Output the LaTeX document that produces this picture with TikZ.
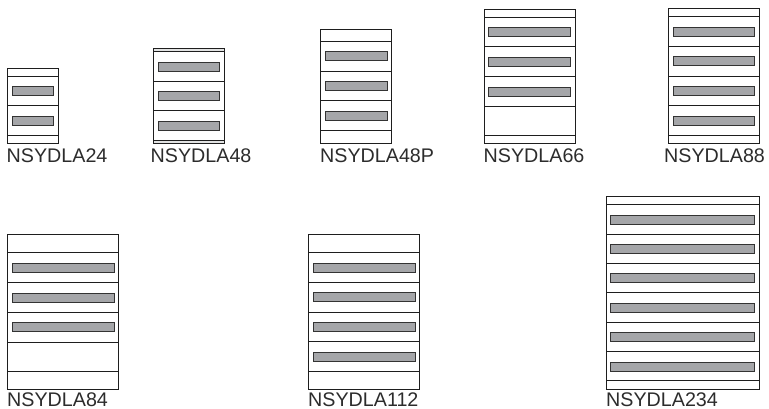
\documentclass[tikz,border=0pt]{standalone}
\usepackage{fontspec}
\setmainfont{Liberation Sans}
\definecolor{edge}{HTML}{1E1E1E}
\definecolor{barfill}{HTML}{A5A6A9}
\definecolor{barline}{HTML}{333333}
\definecolor{band}{HTML}{E2E3E3}
\definecolor{labeltext}{HTML}{2C2C2C}
\tikzset{
  panelbox/.style={draw=edge,line width=1.2pt},
  divider/.style={draw=edge,line width=1.4pt},
  slotbar/.style={draw=barline,fill=barfill,line width=1.4pt},
  caption/.style={anchor=base west,inner sep=0pt,text=labeltext,font=\fontsize{19.7}{22}\selectfont},
}
% #2 x1, #3 x2, #4 top, #5 bottom, #6 dividers, #7 bar x1, #8 bar x2, #9 bar tops
\newcommand{\cabinet}[9]{%
  \draw[panelbox] (#2,#4) rectangle (#3,#5);
  \foreach \yy in {#6} \draw[divider] (#2,\yy) -- (#3,\yy);
  \foreach \yy in {#9} \draw[slotbar] (#7,\yy) rectangle (#8,\yy+9);
}
\begin{document}
\begin{tikzpicture}[x=1pt,y=-1pt]
\useasboundingbox (0,0) rectangle (769,408);
\fill[band] (153.5,48.5) rectangle (224.5,51.5);
\fill[band] (153.5,140.5) rectangle (224.5,143.5);
\cabinet{a}{7.5}{58.5}{68.5}{143.5}{76.5,105.5,135.5}{12.5}{53.5}{86.5,116.5}
\node[caption] (a) at (6.5,162) {NSYDLA24};
\cabinet{b}{153.5}{224.5}{48.5}{143.5}{51.5,81.5,110.5,140.5}{158.5}{219.5}{62.5,91.5,121.5}
\node[caption] (b) at (150.5,162) {NSYDLA48};
\cabinet{c}{320.5}{391.5}{29.5}{143.5}{41.5,71.5,100.5,130.5}{325.5}{387.5}{51.5,81.5,111.5}
\node[caption] (c) at (320,162) {NSYDLA48P};
\cabinet{d}{484.5}{575.5}{9.5}{143.5}{17.5,46.5,76.5,106.5,135.5}{488.5}{570.5}{27.5,57.5,87.5}
\node[caption] (d) at (483.5,162) {NSYDLA66};
\cabinet{e}{668.5}{759.5}{8.5}{143.5}{16.5,46.5,76.5,105.5,135.5}{673.5}{754.5}{27.5,56.5,86.5,116.5}
\node[caption] (e) at (664,162) {NSYDLA88};
\cabinet{f}{7.5}{118.5}{234.5}{389.5}{252.5,282.5,312.5,342.5,371.5}{12.5}{114.5}{263.5,293.5,322.5}
\node[caption] (f) at (7,406) {NSYDLA84};
\cabinet{g}{308.5}{419.5}{234.5}{389.5}{252.5,282.5,312.5,341.5,371.5}{313.5}{415.5}{263.5,292.5,322.5,352.5}
\node[caption] (g) at (308,406) {NSYDLA112};
\cabinet{h}{606.5}{759.5}{196.5}{389.5}{204.5,234.5,263.5,292.5,322.5,351.5,380.5}{610.5}{754.5}{215.5,244.5,273.5,303.5,332.5,362.5}
\node[caption] (h) at (606,406) {NSYDLA234};
\end{tikzpicture}
\end{document}
